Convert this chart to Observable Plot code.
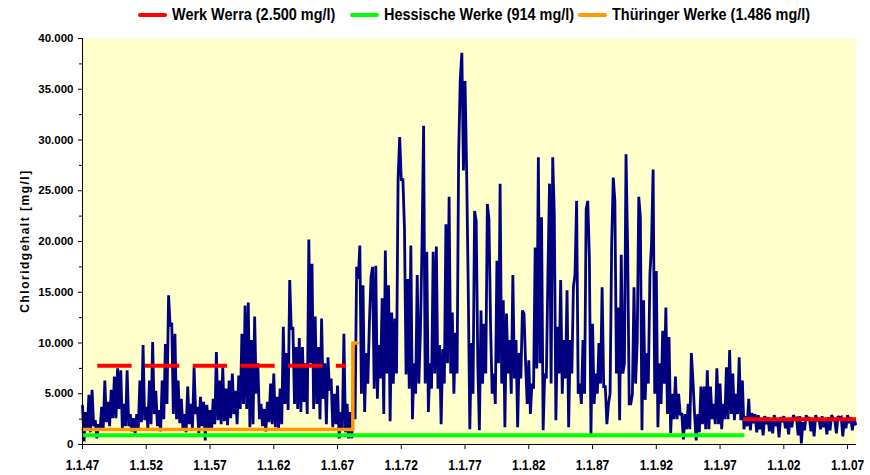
<!DOCTYPE html>
<html>
<head>
<meta charset="utf-8">
<script src="https://cdn.jsdelivr.net/npm/d3@7"></script>
<script src="https://cdn.jsdelivr.net/npm/@observablehq/plot@0.6"></script>
<style>
  body { margin: 0; background: #fff; }
  #wrap { position: relative; width: 870px; height: 475px; overflow: hidden; }
  #chart { position: absolute; left: 0; top: 0; }
  .legend { position: absolute; top: 0; left: 0; width: 870px; height: 32px;
            font: bold 17px "Liberation Sans", Arial, sans-serif; color: #000; }
  .item { position: absolute; top: 5px; height: 20px; line-height: 20px; display: flex; align-items: center; white-space: nowrap; }
  .sw { display: inline-block; width: 29px; height: 4px; border-radius: 2px; margin-right: 5px; flex: none; }
  .txt { display: inline-block; transform: scaleX(0.85); transform-origin: 0 50%; }
  .ylab { position: absolute; left: 25px; top: 241px; transform: translate(-50%, -50%) rotate(-90deg);
          font: bold 12px "Liberation Sans", Arial, sans-serif; letter-spacing: 1.5px; white-space: nowrap; color: #000; }
</style>
</head>
<body>
<div id="wrap">
  <div id="chart"></div>
  <div class="legend" id="legend"></div>
  <div class="ylab" id="ylab"></div>
</div>
<script>
// ---- data (mg/l chloride, 8 readings per year starting 1.1.1947) ----
const startYear = 1947;
const stepsPerYear = 8;
const chlorid1947to1956 = [
  3800, 300, 3200, 1500, 4900, 1200, 5400, 1800,
  2400, 600, 2000, 1400, 3700, 1500, 6300, 2200,
  4200, 1800, 5400, 2600, 6700, 2600, 7500, 3500,
  7300, 1500, 4000, 1800, 7300, 1800, 3000, 1300,
  2600, 1100, 3000, 1500, 6300, 2200, 9800, 2400,
  3700, 1600, 6300, 2000, 10100, 3000, 5300, 1800,
  3400, 1300, 6300, 2500, 9900, 4000, 14700, 11600,
  12000, 3000, 10900, 2500, 6300, 2100, 4500, 1500,
  3000, 1200, 5700, 2000, 4000, 1500, 7600, 3000,
  3700, 1100, 4700, 1800, 4200, 400, 3900, 1400
];
const chlorid1957to1966 = [
  3400, 1400, 4500, 2000, 9100, 2400, 6300, 2000,
  7600, 2300, 5500, 1900, 6300, 2600, 7000, 3000,
  5300, 2000, 6800, 3500, 10900, 4000, 13700, 3500,
  14000, 1700, 10300, 2000, 12600, 5000, 8000, 2500,
  4000, 1800, 3500, 1300, 4200, 2200, 6000, 2000,
  7000, 1700, 4700, 1600, 5500, 2000, 11600, 4000,
  9000, 3400, 16200, 11300, 11600, 4000, 9600, 3500,
  10500, 3200, 9600, 4200, 8000, 3000, 20200, 8000,
  17800, 3500, 12600, 4000, 9600, 2500, 12400, 4500,
  8000, 2000, 8600, 5300, 6500, 1700, 5000, 2000
];
const chlorid1967to1976 = [
  5800, 600, 3200, 1500, 10900, 1200, 4000, 600,
  3200, 600, 6500, 2500, 17500, 16300, 19600, 5000,
  15700, 3200, 9000, 6000, 12000, 16500, 17500, 5500,
  17600, 4500, 9800, 6500, 14400, 3000, 19100, 7000,
  15700, 2300, 13000, 6000, 12400, 7000, 26200, 30300,
  26000, 26200, 21300, 6900, 16300, 5500, 19600, 2500,
  8000, 5000, 16700, 6000, 11100, 19600, 31400, 6000,
  19000, 3200, 8000, 5500, 19000, 7000, 19500, 5500,
  9800, 2000, 9400, 6000, 21700, 8000, 24400, 7000,
  13000, 5000, 11000, 7000, 28600, 36000, 38600, 27000
];
const chlorid1977to1986 = [
  35800, 27000, 15500, 1500, 10000, 5000, 23000, 22000,
  8000, 1400, 13200, 6000, 11900, 7000, 23700, 22200,
  11900, 5000, 7000, 4000, 18100, 8000, 25700, 6000,
  14200, 1700, 12900, 7000, 10300, 5000, 16700, 6500,
  10300, 1700, 9000, 6500, 13200, 12900, 8000, 4000,
  8300, 3000, 6000, 5500, 19400, 7500, 28300, 8000,
  22400, 1400, 7000, 6500, 16800, 25700, 6000, 28300,
  22700, 2400, 11600, 7000, 16200, 5000, 10300, 6500,
  15200, 1700, 10300, 7000, 15500, 16800, 24000, 5000,
  6000, 4000, 10300, 5000, 23200, 24000, 18500, 1000
];
const chlorid1987to1996 = [
  11900, 4000, 7000, 5000, 10000, 6000, 15500, 5700,
  5700, 2000, 4000, 5000, 19800, 26300, 24000, 7000,
  13500, 2400, 18700, 7000, 8000, 28600, 19500, 4000,
  4000, 5000, 15500, 6000, 10000, 24400, 22400, 1400,
  14200, 4400, 9000, 6000, 16800, 19800, 27100, 5000,
  17100, 1700, 8000, 4000, 11200, 6000, 13500, 3000,
  10600, 1100, 5000, 2500, 6700, 2500, 5000, 3000,
  3000, 500, 3000, 1500, 4000, 1500, 9000, 6300,
  3000, 400, 3000, 1200, 5700, 2000, 5700, 1500,
  7300, 1500, 5700, 2500, 4000, 2000, 7500, 2000
];
const chlorid1997to2007 = [
  6000, 1500, 4000, 2500, 7600, 2500, 9300, 3000,
  7000, 2400, 5000, 3000, 8600, 2400, 6300, 1500,
  2800, 1800, 4500, 1400, 3100, 2100, 3000, 1200,
  2900, 1500, 2600, 900, 2800, 2000, 2700, 1300,
  2400, 1100, 2900, 1800, 2600, 700, 2700, 2200,
  2800, 1600, 2300, 1000, 2600, 1700, 2900, 2500,
  2600, 900, 2800, 100, 2200, 1400, 2900, 2400,
  2700, 1300, 2500, 800, 2900, 2300, 2600, 1500,
  2800, 1700, 2400, 1000, 2700, 1400, 2900, 2500,
  2300, 1100, 2800, 2600, 2700, 800, 2400, 1600,
  2900, 2100, 2700, 1400, 2600, 2000
];

// reference levels
const legendNames = ["Werk Werra (2.500 mg/l)", "Hessische Werke (914 mg/l)", "Thüringer Werke (1.486 mg/l)"];
const legendColors = ["#ff0000", "#00ff00", "#ff9900"];
const werraDashed = [{from: 1948.2, to: 1967.7, value: 7750}];
const werraSolid = [{from: 1998.85, to: 2007.7, value: 2500}];
const hessen = [{from: 1947, to: 1998.95, value: 914}];
const thueringenYears = [1947, 1968.2, 1968.2, 1968.55];
const thueringenValues = [1486, 1486, 10000, 10000];

// axes
const xDomain = [1947, 2007.7];
const yDomain = [0, 40000];
const xTickYears = [1947, 1952, 1957, 1962, 1967, 1972, 1977, 1982, 1987, 1992, 1997, 2002, 2007];
const xTickLabels = ["1.1.47", "1.1.52", "1.1.57", "1.1.62", "1.1.67", "1.1.72", "1.1.77", "1.1.82", "1.1.87", "1.1.92", "1.1.97", "1.1.02", "1.1.07"];
const yTicks = [0, 5000, 10000, 15000, 20000, 25000, 30000, 35000, 40000];
const yMinorTicks = [2500, 7500, 12500, 17500, 22500, 27500, 32500, 37500];
const yLabel = "Chloridgehalt [mg/l]";

// ---- build ----
const allValues = [].concat(chlorid1947to1956, chlorid1957to1966, chlorid1967to1976,
                            chlorid1977to1986, chlorid1987to1996, chlorid1997to2007);
const series = allValues.map((v, i) => ({t: startYear + i / stepsPerYear, v}));
const thueringen = thueringenYears.map((t, i) => ({t, v: thueringenValues[i]}));

const de = d3.formatLocale({decimal: ",", thousands: ".", grouping: [3], currency: ["", " €"]});
const fmt = de.format(",d");
const sans = "Liberation Sans, Arial, sans-serif";

const chart = Plot.plot({
  width: 870,
  height: 475,
  marginLeft: 82,
  marginRight: 14,
  marginTop: 38,
  marginBottom: 31,
  x: {domain: xDomain},
  y: {domain: yDomain},
  style: {background: "transparent", overflow: "visible"},
  marks: [
    Plot.frame({fill: "#ffffcc", stroke: null}),
    Plot.line(series, {x: "t", y: "v", stroke: "#000080", strokeWidth: 2.8, strokeLinejoin: "miter", strokeMiterlimit: 2}),
    Plot.ruleY(hessen, {y: "value", x1: "from", x2: "to", stroke: legendColors[1], strokeWidth: 4}),
    Plot.line(thueringen, {x: "t", y: "v", stroke: legendColors[2], strokeWidth: 3.5, strokeLinejoin: "round", strokeLinecap: "round"}),
    Plot.ruleY(werraDashed, {y: "value", x1: "from", x2: "to", stroke: legendColors[0], strokeWidth: 4, strokeDasharray: "34.3,13.4"}),
    Plot.ruleY(werraSolid, {y: "value", x1: "from", x2: "to", stroke: legendColors[0], strokeWidth: 4}),
    Plot.ruleY([0], {stroke: "#000"}),
    Plot.ruleX([xDomain[0]], {stroke: "#000"}),
    Plot.axisY({ticks: yMinorTicks, tickSize: 3, tickFormat: () => "", label: null}),
    Plot.axisY({ticks: yTicks, tickFormat: fmt, tickSize: 4, tickPadding: 5, label: null,
                fontSize: 11.5, fontWeight: "bold", fontFamily: sans}),
    Plot.axisX({ticks: xTickYears, tickFormat: d => xTickLabels[xTickYears.indexOf(d)], tickSize: 5, tickPadding: 10,
                label: null, fontSize: 15, fontWeight: "bold", fontFamily: sans})
  ]
});
document.getElementById("chart").appendChild(chart);

// condense the x tick labels horizontally (narrow typeface look)
d3.select(chart).selectAll("g[aria-label='x-axis tick label'] text").each(function () {
  const el = this;
  const tr = el.getAttribute("transform");
  if (tr) {
    el.setAttribute("transform", tr + " scale(0.8,1)");
  } else {
    const x = +el.getAttribute("x") || 0, y = +el.getAttribute("y") || 0;
    el.removeAttribute("x"); el.removeAttribute("y");
    el.setAttribute("transform", `translate(${x},${y}) scale(0.8,1)`);
  }
});

// legend
const lefts = [138, 350, 578];
const legend = document.getElementById("legend");
legendNames.forEach((name, i) => {
  const item = document.createElement("div");
  item.className = "item";
  item.style.left = lefts[i] + "px";
  const sw = document.createElement("span");
  sw.className = "sw";
  sw.style.background = legendColors[i];
  const txt = document.createElement("span");
  txt.className = "txt";
  txt.textContent = name;
  item.appendChild(sw);
  item.appendChild(txt);
  legend.appendChild(item);
});
document.getElementById("ylab").textContent = yLabel;
</script>
</body>
</html>
